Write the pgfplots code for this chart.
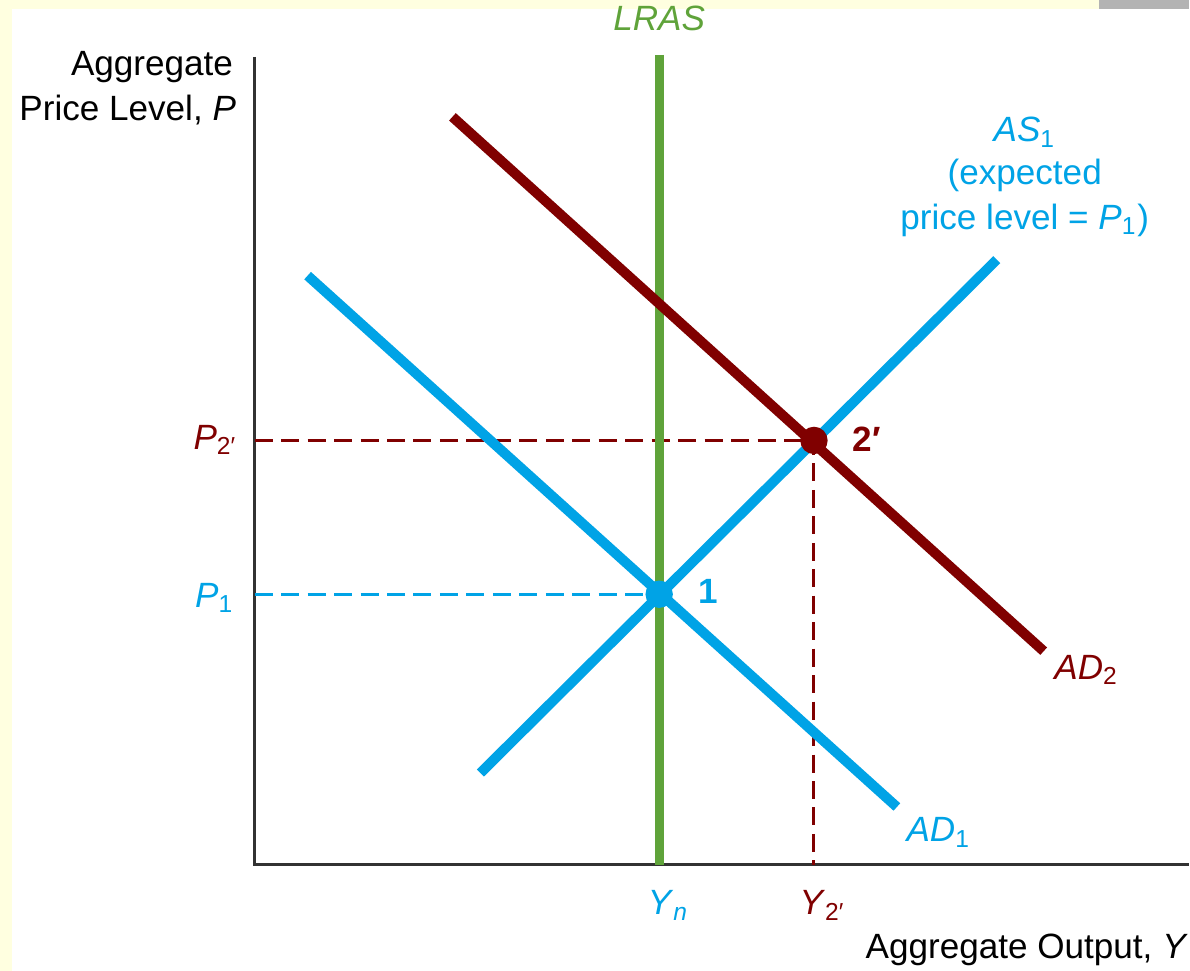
\documentclass[border=0pt]{standalone}
\usepackage{pgfplots}
\pgfplotsset{compat=1.18}
\usepackage{fontspec}
\setmainfont{Liberation Sans}
\definecolor{bl}{RGB}{0,163,230}
\definecolor{dr}{RGB}{128,0,0}
\definecolor{gr}{RGB}{95,163,58}
\definecolor{bgy}{RGB}{255,255,224}
\definecolor{axc}{RGB}{50,50,50}
\definecolor{gry}{RGB}{179,179,179}
\tikzset{lab/.style={font=\fontsize{10}{12}\selectfont, inner sep=0pt}}
\begin{document}
\begin{tikzpicture}
\begin{axis}[scale only axis, width=11.9cm, height=9.72cm,
  xmin=0, xmax=1190, ymin=0, ymax=972, hide axis, clip=false]
% background
\fill[bgy] (axis cs:0,0) rectangle (axis cs:1190,972);
\fill[white] (axis cs:12,0) rectangle (axis cs:1190,963);
\fill[gry] (axis cs:1100,963) rectangle (axis cs:1190,972);
% axes
\addplot[axc, line width=0.85pt, line cap=butt] coordinates {(255,915) (255,106) (1190,106)};
% dashed guides
\addplot[dr, line width=0.85pt, dash pattern=on 0.18cm off 0.085cm] coordinates {(255,531) (815,531) (815,106)};
\addplot[bl, line width=0.85pt, dash pattern=on 0.18cm off 0.085cm] coordinates {(255,377) (660,377)};
% LRAS
\addplot[gr, line width=2.5pt] coordinates {(660,917) (660,106)};
% AD1
\addplot[bl, line width=2.85pt] coordinates {(308,696) (898,164)};
% AS1
\addplot[bl, line width=2.85pt] coordinates {(481,198) (998,712)};
% AD2
\addplot[dr, line width=2.85pt] coordinates {(453,855) (1045,320)};
% equilibrium points
\addplot[only marks, mark=*, mark size=3.7pt, bl, mark options={draw=bl, fill=bl}] coordinates {(660,377)};
\addplot[only marks, mark=*, mark size=3.7pt, dr, mark options={draw=dr, fill=dr}] coordinates {(815,531)};
% labels
\node[lab, text=gr, anchor=base] at (axis cs:660,941) {\textit{LRAS}};
\node[lab, anchor=base east] at (axis cs:234,896) {Aggregate};
\node[lab, anchor=base east] at (axis cs:237,851) {Price Level, \textit{P}};
\node[lab, text=bl, anchor=base] at (axis cs:1026,830) {\textit{AS}\textsubscript{1}};
\node[lab, text=bl, anchor=base] at (axis cs:1026,787) {(expected};
\node[lab, text=bl, anchor=base] at (axis cs:1026,742) {price level = \textit{P}\textsubscript{1})};
\node[lab, text=dr, anchor=base east] at (axis cs:238,522) {\textit{P}\textsubscript{2′}};
\node[lab, text=bl, anchor=base east] at (axis cs:235,364) {\textit{P}\textsubscript{1}};
\node[lab, text=dr, anchor=base west] at (axis cs:853,520) {\textbf{2′}};
\node[lab, text=bl, anchor=base west] at (axis cs:699,368) {\textbf{1}};
\node[lab, text=dr, anchor=base west] at (axis cs:1055,292) {\textit{AD}\textsubscript{2}};
\node[lab, text=bl, anchor=base west] at (axis cs:907,129) {\textit{AD}\textsubscript{1}};
\node[lab, text=bl, anchor=base west] at (axis cs:648,56) {\textit{Y}\textsubscript{\textit{n}}};
\node[lab, text=dr, anchor=base west] at (axis cs:800,56) {\textit{Y}\textsubscript{2′}};
\node[lab, anchor=base east] at (axis cs:1190,12) {Aggregate Output, \textit{Y}};
\end{axis}
\end{tikzpicture}
\end{document}
